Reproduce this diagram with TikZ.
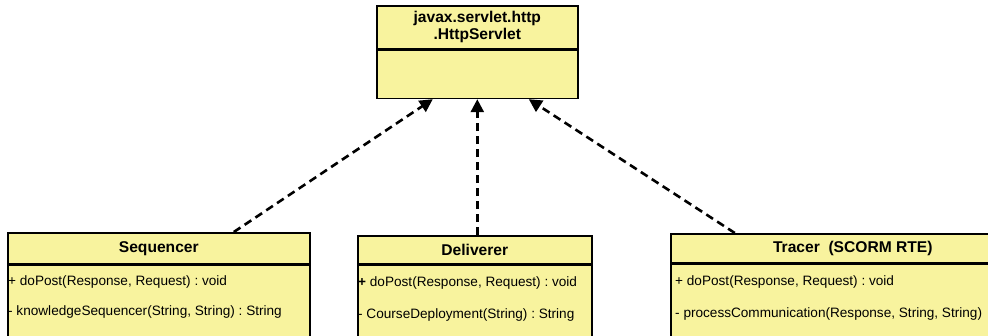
\documentclass[tikz,border=0pt]{standalone}
\usepackage{fontspec}
\setmainfont{Liberation Sans}
\usetikzlibrary{arrows.meta}
\definecolor{classyellow}{RGB}{248,243,158}
\frenchspacing

\begin{document}
\begin{tikzpicture}[x=1pt,y=-1pt,
    classbox/.style={draw, line width=1.6pt, fill=classyellow, rectangle, anchor=north west, inner sep=0pt},
    titletext/.style={font=\fontsize{15.6}{17}\selectfont\bfseries, align=center},
    optext/.style={font=\fontsize{13.6}{15}\selectfont, anchor=west, inner sep=0pt},
    realize/.style={line width=2.6pt, dash pattern=on 8pt off 5pt, -{Triangle[length=13pt,width=13pt]}}]
      \useasboundingbox (0,0) rectangle (988,335);
      \clip (0,0) rectangle (988,335);

      \node[classbox, titletext, minimum width=201pt, minimum height=43pt] (servlet) at (376,5) {javax.servlet.http\\.HttpServlet};
      \node[classbox, minimum width=201pt, minimum height=48pt] (servletops) at (servlet.south west) {};

      \node[classbox, titletext, minimum width=302pt, minimum height=31pt] (seq) at (7,232) {Sequencer};
      \node[classbox, minimum width=302pt, minimum height=90pt] (seqops) at (seq.south west) {};
      \node[optext] (seqpost) at (8,282) {+ doPost(Response, Request) : void};
      \node[optext] (seqknow) at (8,312) {- knowledgeSequencer(String, String) : String};

      \node[classbox, titletext, minimum width=234pt, minimum height=28pt] (deliv) at (357,235) {Deliverer};
      \node[classbox, minimum width=234pt, minimum height=90pt] (delivops) at (deliv.south west) {};
      \node[optext] (delivpost) at (358,283) {\textbf{+} doPost(Response, Request) : void};
      \node[optext] (delivdeploy) at (358,315) {- CourseDeployment(String) : String};

      \node[classbox, titletext, minimum width=364pt, minimum height=29pt] (tracer) at (670,233) {Tracer\ \ (SCORM RTE)};
      \node[classbox, minimum width=364pt, minimum height=90pt] (tracerops) at (tracer.south west) {};
      \node[optext] (tracerpost) at (675,282) {+ doPost(Response, Request) : void};
      \node[optext] (tracercomm) at (675,314) {- processCommunication(Response, String, String)};

      \draw[realize] ([xshift=75pt]seq.north) -- ([xshift=-44.5pt]servletops.south);
      \draw[realize] (servletops.south |- deliv.north) -- (servletops.south);
      \draw[realize] ([xshift=-118pt]tracer.north) -- ([xshift=51.5pt]servletops.south);
\end{tikzpicture}
\end{document}
